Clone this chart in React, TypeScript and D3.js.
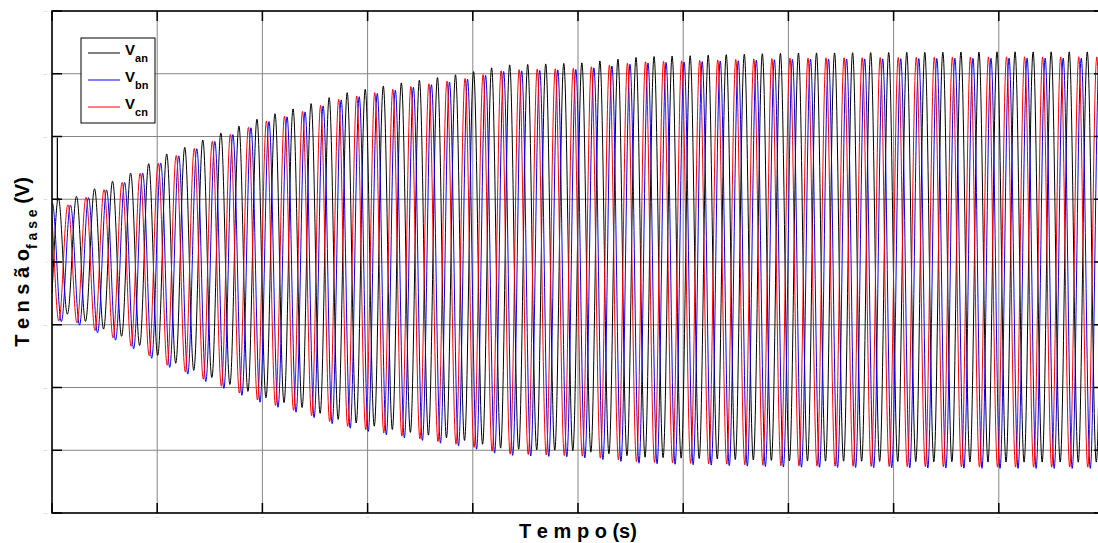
import * as d3 from "d3";

// axis ticks (labels are printed tiny in the original)
const xTicks = [0, 0.1, 0.2, 0.3, 0.4, 0.5, 0.6, 0.7, 0.8, 0.9, 1.0];
const yTicks = [-400, -300, -200, -100, 0, 100, 200, 300, 400];

// crest envelope (V) at these times (s)
const envTime = [0, 0.015, 0.031, 0.049, 0.067, 0.09, 0.107, 0.125, 0.15, 0.2, 0.24, 0.274, 0.33, 0.394, 0.43, 0.5, 0.56, 0.7, 0.9, 1.0];
const envAmp = [96, 91, 102, 115, 127, 147, 163, 174, 191, 223, 241, 260, 277, 293, 306, 309, 319, 325, 327, 327];

// phases
const phaseSubs = ["an", "bn", "cn"];
const phaseColors = ["#000000", "#0000ff", "#ff0000"];
const phaseLeadDeg = [0, 120, 170];
const phaseOffsetV = [8, -2, 0];

const freqHz = 58.28;
const refCrestTime = 0.8983; // a crest of Van
const spikeTime = 0.0051; // start-up spike on Van
const spikeVolt = 198;

const W = 1098;
const H = 543;
const left = 52;
const right = 1104;
const top = 11;
const bottom = 513;

const App = () => {
  const x = d3.scaleLinear().domain([0, 1]).range([left, right]);
  const y = d3.scaleLinear().domain([-400, 400]).range([bottom, top]);
  const env = d3.scaleLinear().domain(envTime).range(envAmp).clamp(true);

  const times = d3.range(0, 1.00001, 0.00025);
  const series = phaseSubs.map((_, i) => {
    const lead = (phaseLeadDeg[i] * Math.PI) / 180;
    const pts: [number, number][] = times.map((t) => [
      t,
      phaseOffsetV[i] + env(t) * Math.cos(2 * Math.PI * freqHz * (t - refCrestTime) + lead),
    ]);
    if (i === 0) {
      const k = pts.findIndex((p) => p[0] >= spikeTime);
      pts.splice(k, 0, [spikeTime, spikeVolt]);
    }
    return pts;
  });

  const line = d3
    .line<[number, number]>()
    .x((d) => x(d[0]))
    .y((d) => y(d[1]));

  const font = "'Liberation Sans', Arial, Helvetica, sans-serif";
  const tickLen = 10;
  const legendRows = [53, 80, 107];

  return (
    <svg
      width={W}
      height={H}
      style={{ position: "absolute", left: 0, top: 0, background: "#fff" }}
      fontFamily={font}
    >
      <defs>
        <clipPath id="plot">
          <rect x={left} y={top} width={right - left} height={bottom - top} />
        </clipPath>
      </defs>
      <rect width={W} height={H} fill="#fff" />

      {/* grid */}
      <g stroke="#858585" strokeWidth={1}>
        {xTicks.map((t) => (
          <line key={"gx" + t} x1={x(t)} x2={x(t)} y1={top} y2={bottom} />
        ))}
        {yTicks.map((t) => (
          <line key={"gy" + t} x1={left} x2={right} y1={y(t)} y2={y(t)} />
        ))}
      </g>

      {/* waveforms */}
      <g clipPath="url(#plot)" fill="none" strokeWidth={1}>
        {series.map((s, i) => (
          <path key={i} d={line(s) ?? ""} stroke={phaseColors[i]} />
        ))}
      </g>

      {/* box and ticks */}
      <g stroke="#000" strokeWidth={1.5} fill="none">
        <rect x={left} y={top} width={right - left} height={bottom - top} />
        {xTicks.map((t) => (
          <g key={"tx" + t}>
            <line x1={x(t)} x2={x(t)} y1={bottom} y2={bottom - tickLen} />
            <line x1={x(t)} x2={x(t)} y1={top} y2={top + tickLen} />
          </g>
        ))}
        {yTicks.map((t) => (
          <g key={"ty" + t}>
            <line x1={left} x2={left + tickLen} y1={y(t)} y2={y(t)} />
            <line x1={right} x2={right - tickLen} y1={y(t)} y2={y(t)} />
          </g>
        ))}
      </g>

      {/* tick labels (microscopic in the original) */}
      <g fill="#999" fontSize={2}>
        {xTicks
          .filter((t) => x(t) < W - 4)
          .map((t) => (
            <text key={"lx" + t} x={x(t)} y={bottom + 5} textAnchor="middle">
              {t}
            </text>
          ))}
        {yTicks.map((t) => (
          <text key={"ly" + t} x={left - 5} y={y(t) + 1} textAnchor="end">
            {t}
          </text>
        ))}
      </g>

      {/* legend */}
      <rect x={81} y={38} width={74} height={85} fill="#fff" stroke="#000" strokeWidth={1} />
      {phaseSubs.map((sub, i) => (
        <g key={sub}>
          <line x1={88} x2={120} y1={legendRows[i]} y2={legendRows[i]} stroke={phaseColors[i]} strokeWidth={1} />
          <text x={125} y={legendRows[i] + 2} fontSize={15} fontWeight="bold">
            V
            <tspan fontSize={11} dy={7}>
              {sub}
            </tspan>
          </text>
        </g>
      ))}

      {/* axis labels */}
      <text x={(left + right) / 2} y={538} textAnchor="middle" fontSize={20} fontWeight="bold">
        T e m p o (s)
      </text>
      <text
        transform={`translate(29,${(top + bottom) / 2}) rotate(-90)`}
        textAnchor="middle"
        fontSize={20}
        fontWeight="bold"
      >
        T e n s ã o
        <tspan fontSize={14} dy={8}>
          f a s e
        </tspan>
        <tspan dy={-8}> (V)</tspan>
      </text>
    </svg>
  );
};

export default App;
